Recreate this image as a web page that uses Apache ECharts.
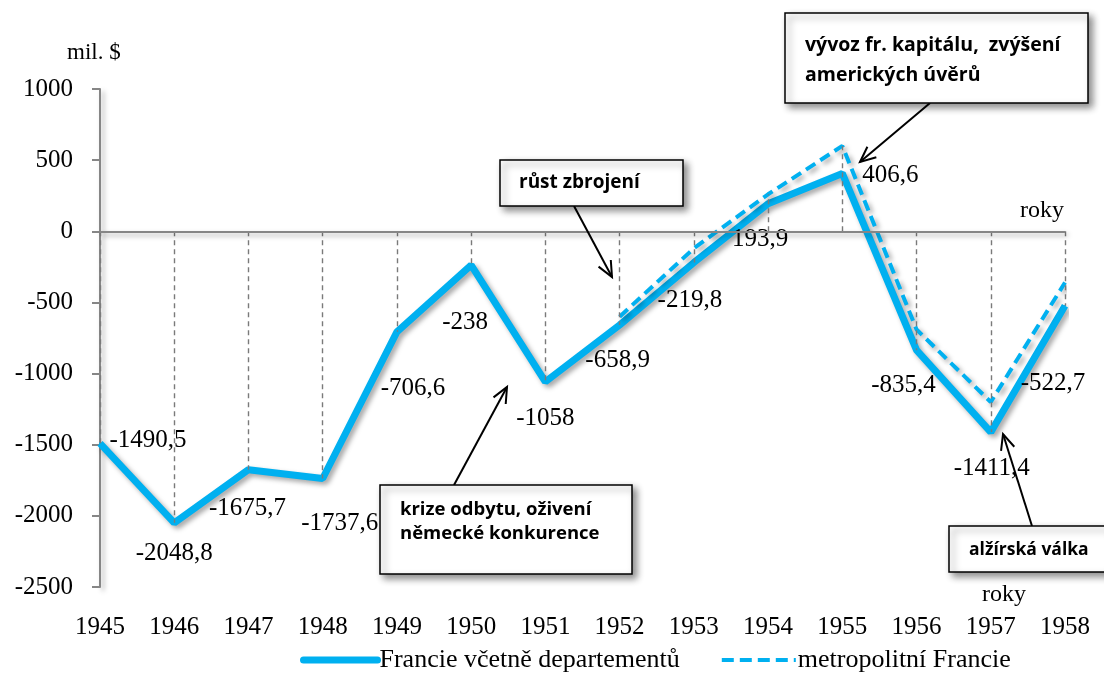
<!DOCTYPE html>
<html><head><meta charset="utf-8">
<script src="https://cdn.jsdelivr.net/npm/echarts@6.0.0/dist/echarts.min.js"></script>
<style>html,body{margin:0;padding:0;background:#fff}#c{width:1104px;height:674px}</style>
</head><body><div id="c"></div>
<script>
const years = ['1945','1946','1947','1948','1949','1950','1951','1952','1953','1954','1955','1956','1957','1958'];
const franceAll = [-1490.5,-2048.8,-1675.7,-1737.6,-706.6,-238,-1058,-658.9,-219.8,193.9,406.6,-835.4,-1411.4,-522.7];
const franceMetro = [null,null,null,null,null,null,null,-600,-120,260,600,-690,-1200,-360];
const seriesNames = ['Francie včetně departementů','metropolitní Francie'];
const yMin = -2500, yMax = 1000, yStep = 500;

// label offsets (styling only)
const labelOffsets = [[48,-3],[0,31],[-1,39],[17,45],[16,57],[-6,57],[0,37],[-2,35],[-4,38],[-8,36],[48,2],[-13,35],[1,36],[-12,78]];

const BLUE = '#00B0F0';
const SERIF = '"Liberation Serif","Times New Roman",serif';
const SANS = '"Open Sans","Noto Sans",sans-serif';
const fmt = v => String(v).replace('.', ',');

// drop lines: from 0 to the more extreme value of the two series
const dropData = years.map((y, i) => {
  const vals = [franceAll[i], franceMetro[i]].filter(v => v !== null);
  const ext = vals.reduce((a, b) => Math.abs(b) > Math.abs(a) ? b : a);
  return [{coord: [y, 0]}, {coord: [y, ext]}];
});

const shadow = {shadowColor: 'rgba(0,0,0,0.35)', shadowBlur: 5, shadowOffsetX: 3, shadowOffsetY: 3};

function arrow(x1, y1, x2, y2) {
  const a = Math.atan2(y2 - y1, x2 - x1), L = 17, w = 0.42;
  return [
    {type: 'line', shape: {x1, y1, x2, y2}, style: {stroke: '#000', lineWidth: 2}, z: 20},
    {type: 'polyline', shape: {points: [[x2 - L * Math.cos(a - w), y2 - L * Math.sin(a - w)], [x2, y2], [x2 - L * Math.cos(a + w), y2 - L * Math.sin(a + w)]]},
     style: {stroke: '#000', lineWidth: 2, fill: null}, z: 20}
  ];
}
function box(x, y, w, h, lines, tx, ty, lh, fs) {
  const els = [{type: 'rect', shape: {x, y, width: w, height: h},
    style: {fill: '#fff', stroke: '#000', lineWidth: 1.5, shadowColor: 'rgba(0,0,0,0.45)', shadowBlur: 7, shadowOffsetX: 4, shadowOffsetY: 4}, z: 21}];
  lines.forEach((t, k) => els.push({type: 'text', x: tx, y: ty + k * lh, z: 22,
    style: {text: t, font: 'bold ' + (fs || 19) + 'px ' + SANS, fill: '#000', verticalAlign: 'middle'}}));
  return els;
}

const chart = echarts.init(document.getElementById('c'));
chart.setOption({
  animation: false,
  backgroundColor: '#fff',
  grid: {left: 100, right: 39, top: 89, bottom: 87},
  legend: {
    top: 647, left: 300, itemWidth: 74, itemHeight: 12, itemGap: 40, padding: 0,
    data: [
      {name: seriesNames[0], lineStyle: {width: 7, color: BLUE, cap: 'round', shadowBlur: 0, shadowOffsetX: 0, shadowOffsetY: 0}},
      {name: seriesNames[1], lineStyle: {width: 4, color: BLUE, type: [12, 6], shadowBlur: 0, shadowOffsetX: 0, shadowOffsetY: 0}}
    ],
    textStyle: {fontFamily: SERIF, fontSize: 26, color: '#000', padding: [0, 0, 0, -3]},
    itemStyle: {opacity: 0}
  },
  xAxis: {
    type: 'category', data: years, boundaryGap: false,
    axisLine: {show: false}, axisTick: {show: false}, splitLine: {show: false},
    axisLabel: {margin: 28, color: '#000', fontFamily: SERIF, fontSize: 25}
  },
  yAxis: {
    type: 'value', min: yMin, max: yMax, interval: yStep,
    splitLine: {show: false},
    axisLine: {show: true, lineStyle: Object.assign({color: '#868686', width: 2}, shadow)},
    axisTick: {show: true, length: 8, lineStyle: {color: '#868686', width: 2}},
    axisLabel: {margin: 27, color: '#000', fontFamily: SERIF, fontSize: 25, formatter: v => String(v)}
  },
  series: [
    {
      name: 'drop', type: 'line', data: years.map(() => null), z: 1, silent: true,
      markLine: {
        silent: true, symbol: 'none', animation: false, label: {show: false},
        lineStyle: {color: '#7a7a7a', type: [5, 4], width: 1.4},
        data: dropData.concat([{yAxis: 0, lineStyle: Object.assign({type: 'solid', color: '#868686', width: 2}, shadow)}])
      }
    },
    {
      name: seriesNames[0], type: 'line', z: 3,
      data: franceAll.map((v, i) => ({value: v, label: {offset: labelOffsets[i]}})),
      symbol: 'circle', symbolSize: 2, itemStyle: {color: BLUE},
      lineStyle: Object.assign({color: BLUE, width: 7}, shadow),
      label: {show: true, position: 'inside', color: '#000', fontFamily: SERIF, fontSize: 25,
        formatter: p => fmt(p.value)}
    },
    {
      name: seriesNames[1], type: 'line', z: 4, data: franceMetro,
      symbol: 'none', itemStyle: {color: BLUE},
      lineStyle: Object.assign({color: BLUE, width: 4, type: [11, 6]}, shadow)
    }
  ],
  graphic: [
    {type: 'text', x: 67, y: 53, style: {text: 'mil. $', font: '23px ' + SERIF, fill: '#000', verticalAlign: 'middle'}},
    {type: 'text', x: 1020, y: 211, style: {text: 'roky', font: '24px ' + SERIF, fill: '#000', verticalAlign: 'middle'}},
    {type: 'text', x: 982, y: 595, style: {text: 'roky', font: '24px ' + SERIF, fill: '#000', verticalAlign: 'middle'}},
    ...box(785, 13, 303, 90, ['vývoz fr. kapitálu,  zvýšení', 'amerických úvěrů'], 805, 45, 30, 19.5),
    ...arrow(930, 103, 860, 162),
    ...box(500, 160, 183, 46, ['růst zbrojení'], 519, 183, 0, 19),
    ...arrow(574, 206, 612, 277),
    ...box(380, 485, 252, 89, ['krize odbytu, oživení', 'německé konkurence'], 400, 510, 24, 18.5),
    ...arrow(454, 485, 507, 387),
    ...box(949, 526, 160, 46, ['alžírská válka'], 969, 550, 0, 17.5),
    ...arrow(1032, 526, 1003, 434)
  ]
});
</script></body></html>
